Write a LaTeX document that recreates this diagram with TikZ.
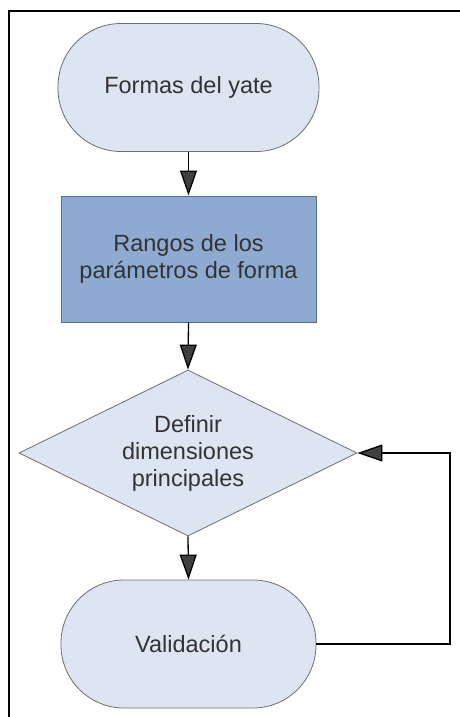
\documentclass[tikz,border=0pt]{standalone}
\usepackage{fontspec}
\setmainfont{Liberation Sans}
\usetikzlibrary{shapes.geometric,arrows.meta}
\definecolor{lightfill}{HTML}{DCE5F1}
\definecolor{rectfill}{HTML}{8EAAD0}
\definecolor{rectborder}{HTML}{4F6E9C}
\definecolor{shapeborder}{HTML}{6E6E6E}
\definecolor{txt}{HTML}{333333}
\definecolor{tipfill}{HTML}{404040}
\tikzset{
  lbl/.style={font=\fontsize{23.5}{27}\selectfont, text=txt, align=center},
  terminal/.style={lbl, draw=shapeborder, fill=lightfill, line width=0.8pt,
    rectangle, rounded corners=63pt, minimum height=128pt, inner sep=0pt},
  process/.style={lbl, draw=rectborder, fill=rectfill, line width=1pt,
    rectangle, minimum width=255pt, minimum height=126pt, inner sep=0pt},
  decision/.style={lbl, draw=shapeborder, fill=lightfill, line width=0.8pt,
    diamond, aspect=2.036, minimum width=338pt, minimum height=166pt, inner sep=0pt},
  arr/.style={draw=black, line width=1.3pt,
    -{Triangle[length=25pt,width=17pt,fill=tipfill]}},
}
\begin{document}
\begin{tikzpicture}[x=1pt,y=-1pt]
\useasboundingbox (0,0) rectangle (460,717);
\draw[line width=2pt] (9,718) -- (9,11) -- (461,11);
\node[terminal, minimum width=261pt] (t1) at (188.5,87.5) {Formas del yate};
\node[process] (p) at (188.5,259) {Rangos de los\\parámetros de forma};
\node[decision] (d) at (188,453) {Definir\\dimensiones\\principales};
\node[terminal, minimum width=255pt] (t2) at (188.5,644) {Validación};
\coordinate (fb) at (450,644);
\draw[arr] (t1.south) -- (p.north);
\draw[arr] (p.south) -- (d.north);
\draw[arr] (d.south) -- (t2.north);
\draw[arr] (t2.east) -- (fb) |- (d.east);
\end{tikzpicture}
\end{document}
